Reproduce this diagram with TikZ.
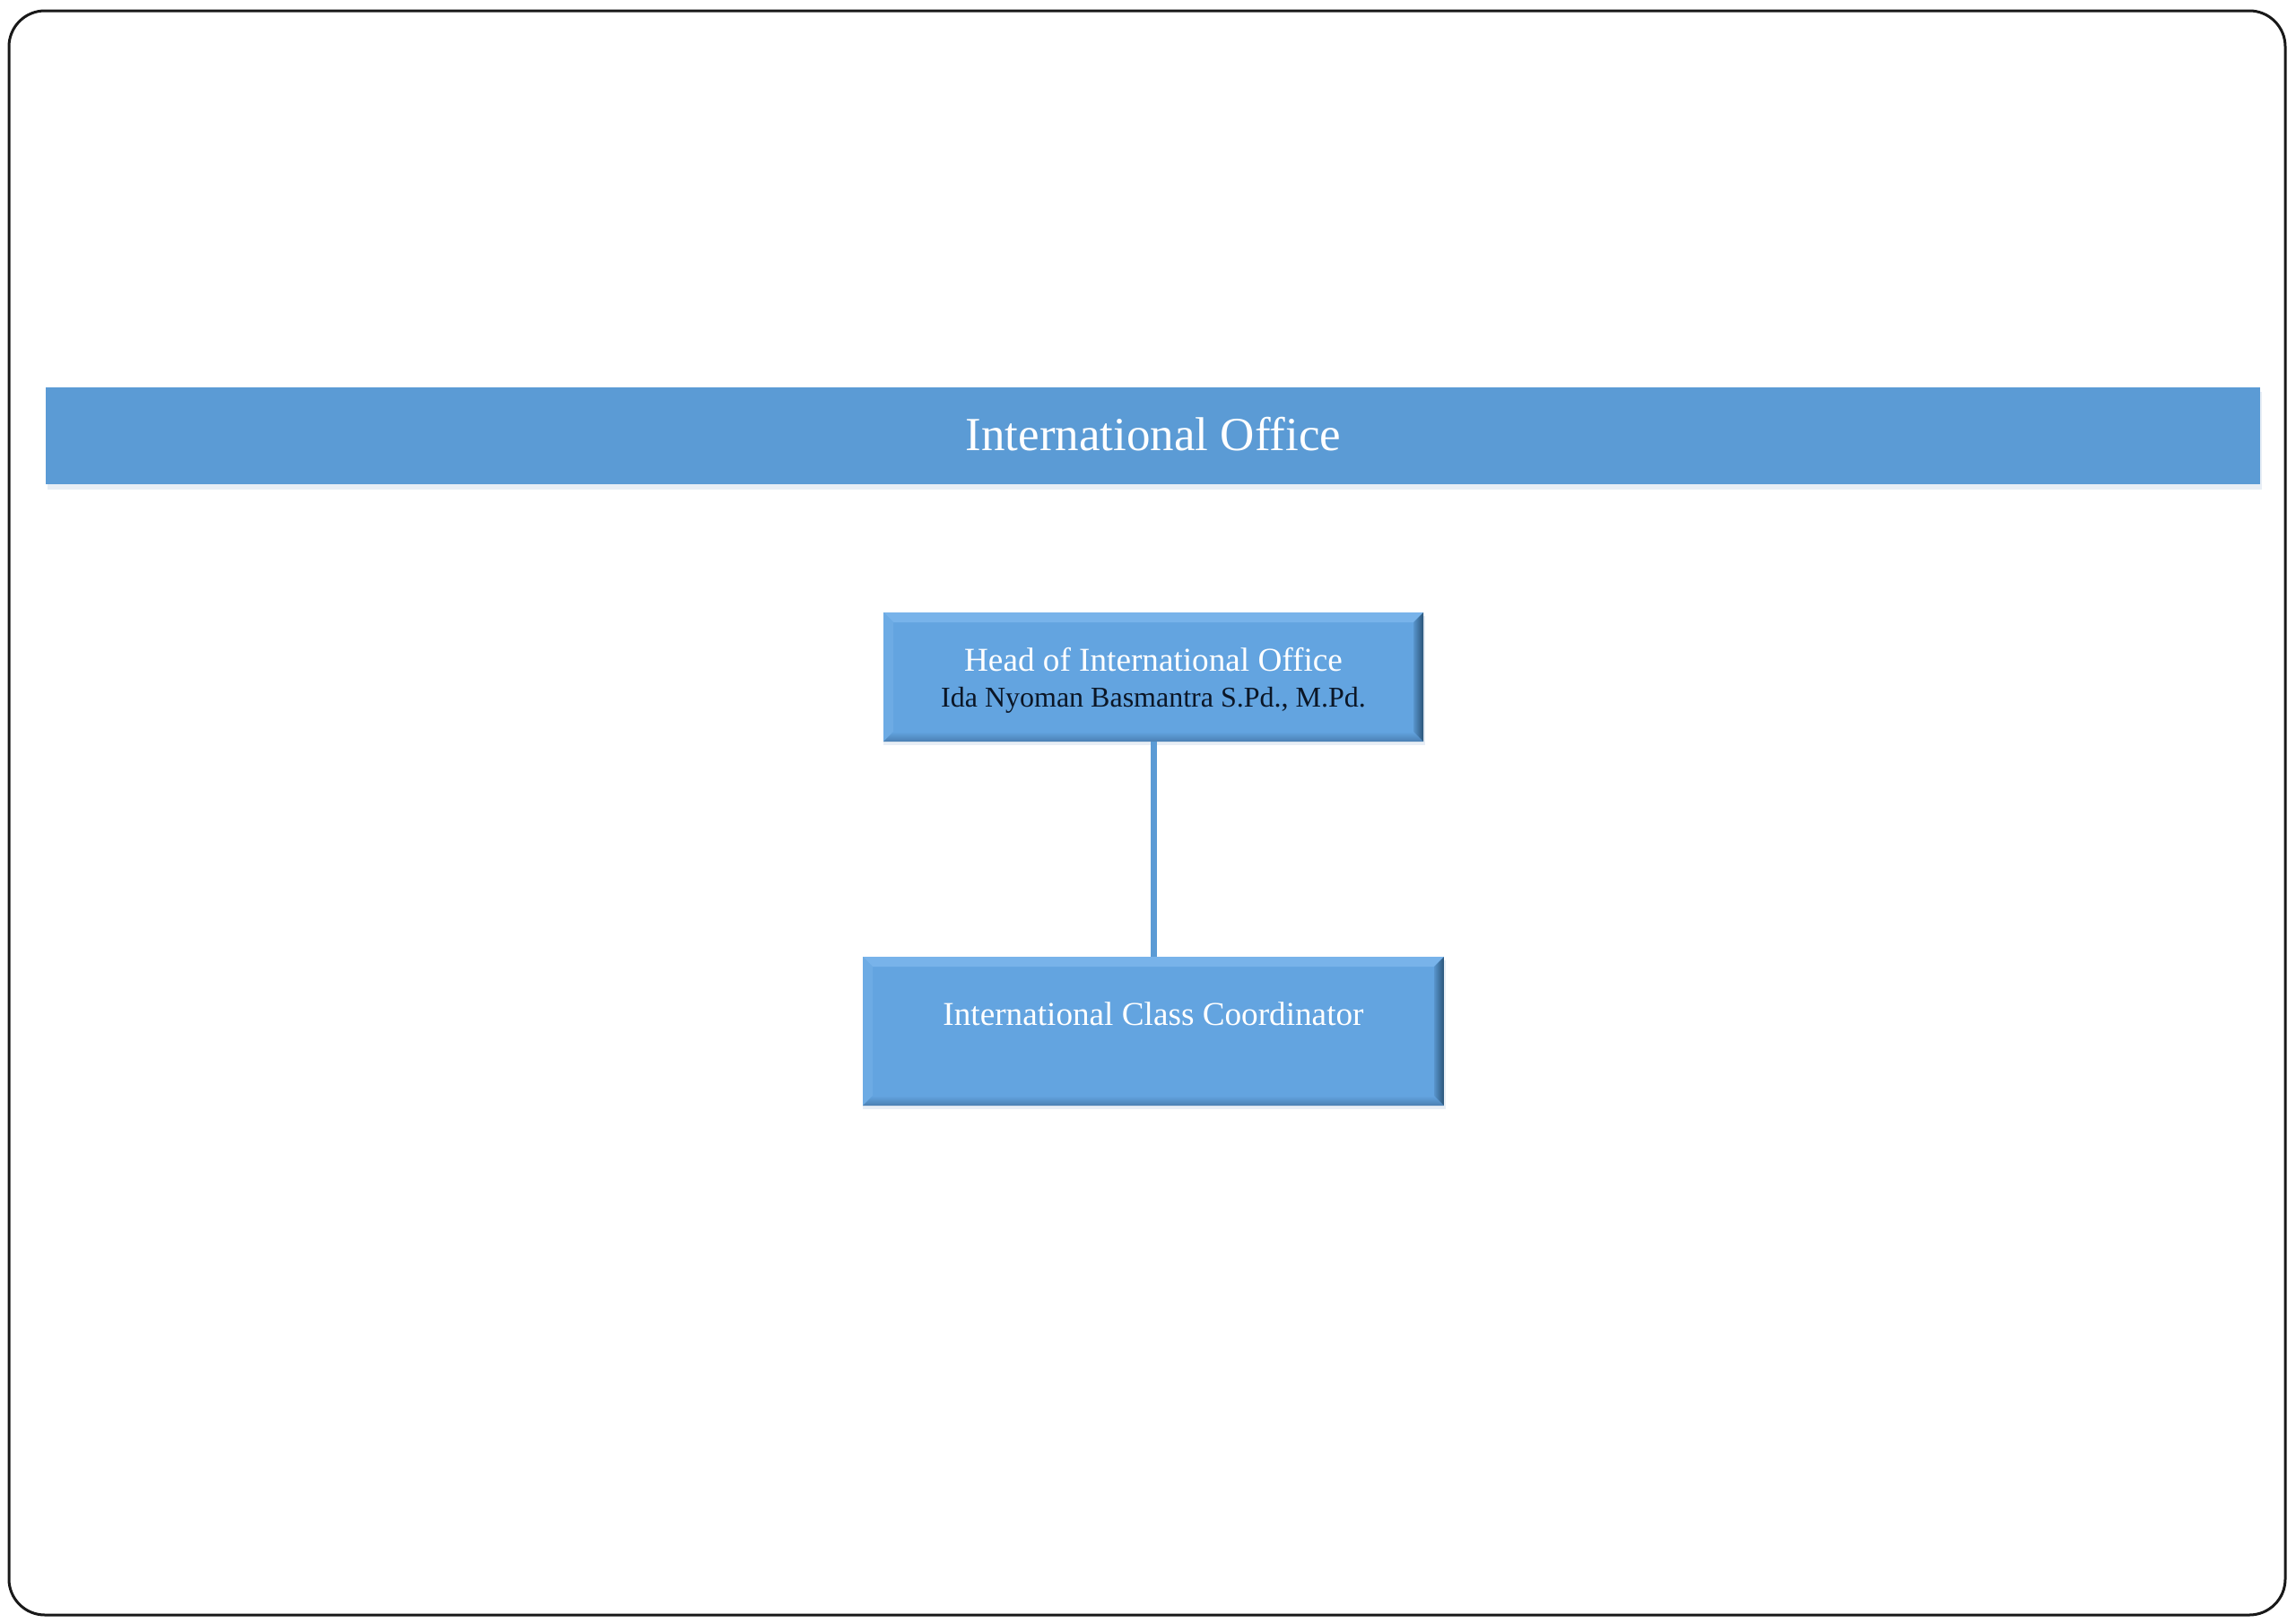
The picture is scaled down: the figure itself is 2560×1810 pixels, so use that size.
\documentclass[tikz,border=0pt]{standalone}
\usepackage{fontspec}
\setmainfont{Liberation Serif}
\definecolor{bannerblue}{HTML}{5B9BD5}
\definecolor{boxblue}{HTML}{63A4E0}
\definecolor{bevtop}{HTML}{78B3EA}
\definecolor{bevleft}{HTML}{6DABE4}
\definecolor{bevright}{HTML}{2A5478}
\definecolor{bevbot}{HTML}{4A7FB2}
\definecolor{namecol}{HTML}{0B1626}
\definecolor{shadowcol}{HTML}{E8EEF5}
\begin{document}
\begin{tikzpicture}[x=1pt,y=-1pt,
  bevelbox/.style={fill=boxblue, inner sep=0pt,
    path picture={
      \def\bb{path picture bounding box}
      \fill[bevtop] (\bb.north west) -- (\bb.north east) -- ([xshift=-11pt,yshift=-11pt]\bb.north east) -- ([xshift=11pt,yshift=-11pt]\bb.north west) -- cycle;
      \fill[bevleft] (\bb.north west) -- ([xshift=11pt,yshift=-11pt]\bb.north west) -- ([xshift=11pt,yshift=11pt]\bb.south west) -- (\bb.south west) -- cycle;
      \shade[top color=boxblue, bottom color=bevbot] (\bb.south west) -- ([xshift=11pt,yshift=11pt]\bb.south west) -- ([xshift=-11pt,yshift=11pt]\bb.south east) -- (\bb.south east) -- cycle;
      \shade[left color=boxblue!80!bevright, right color=bevright] (\bb.north east) -- ([xshift=-11pt,yshift=-11pt]\bb.north east) -- ([xshift=-11pt,yshift=11pt]\bb.south east) -- (\bb.south east) -- cycle;
    }},
  boxshadow/.style={fill=shadowcol, inner sep=0pt},
  whitetext/.style={text=white, inner sep=0pt, anchor=base, font=\fontsize{37.2}{42}\selectfont},
  nametext/.style={text=namecol, inner sep=0pt, anchor=base, font=\fontsize{32}{36}\selectfont},
  connector/.style={draw=bannerblue, line width=7pt}
]
\useasboundingbox (0,0) rectangle (2560,1810);
\fill[white] (0,0) rectangle (2560,1810);
% frame
\draw[line width=3pt, draw=black!90, rounded corners=40pt] (10,12) rectangle (2548,1801);
% banner
\fill[shadowcol] (53,437) rectangle (2522,546);
\node[fill=bannerblue, minimum width=2469pt, minimum height=108pt, inner sep=0pt] (banner) at (1285.5,486) {};
\node[text=white, inner sep=0pt, anchor=base, font=\fontsize{53}{60}\selectfont] (bannertitle) at (1286,502) {International Office};
% shadows
\node[boxshadow, minimum width=604pt, minimum height=144pt] (headshadow) at (1287,759) {};
\node[boxshadow, minimum width=650pt, minimum height=166pt] (coordshadow) at (1287,1154) {};
% boxes
\node[bevelbox, minimum width=602pt, minimum height=144pt] (head) at (1286,755) {};
\node[bevelbox, minimum width=648pt, minimum height=166pt] (coord) at (1286,1150) {};
% connector
\draw[connector] (head.south) -- (coord.north);
% texts
\node[whitetext] (headtitle) at (1286,748) {Head of International Office};
\node[nametext] (headname) at (1286,788) {Ida Nyoman Basmantra S.Pd., M.Pd.};
\node[whitetext] (coordtitle) at (1286,1143) {International Class Coordinator};
\end{tikzpicture}
\end{document}
